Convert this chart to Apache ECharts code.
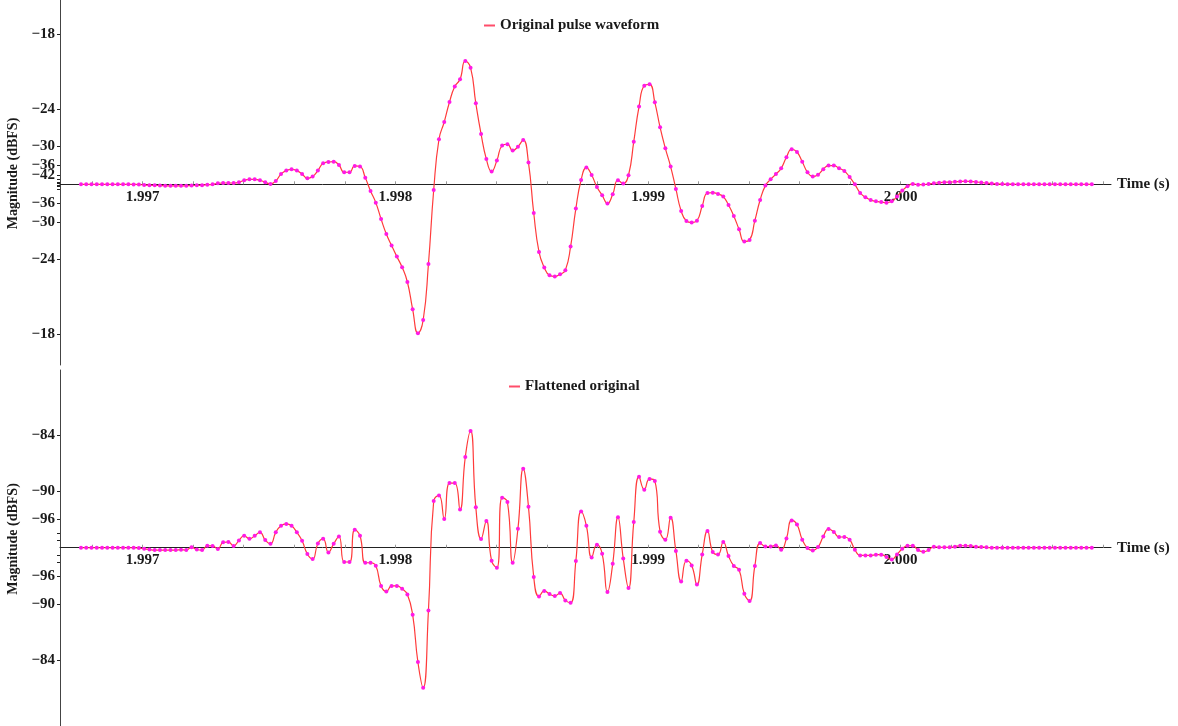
<!DOCTYPE html>
<html>
<head>
<meta charset="utf-8">
<script src="https://cdn.jsdelivr.net/npm/echarts@6/dist/echarts.min.js"></script>
<style>
  html, body { margin: 0; padding: 0; background: #ffffff; }
  #chart { width: 1178px; height: 726px; }
</style>
</head>
<body>
<div id="chart"></div>
<script>
// Pulse samples at 48 kHz
const SAMPLE_RATE = 48000;
const START_TIME = 1.996756;

// Original pulse waveform, amplitude in full-scale units
const originalFS = [
  0, 0, 0, 0, 0, 0, 0, 0, 0, 0, -0.0001, -0.0002,
  -0.0005, -0.0008, -0.0009, -0.0011, -0.0012, -0.0013, -0.0013, -0.0013, -0.0012, -0.0011, -0.0009, -0.0007, -0.0003, 0.0000,
  0.0008, 0.0011, 0.0011, 0.0011, 0.0017, 0.0034, 0.0042, 0.0042, 0.0034, 0.0017,
  0.0003, 0.0028, 0.0086, 0.0115, 0.0126, 0.0115, 0.0086, 0.0050, 0.0065, 0.0115,
  0.0176, 0.0187, 0.0190, 0.0162, 0.0101, 0.0101, 0.0154, 0.0149, 0.0056, -0.0056,
  -0.0154, -0.0291, -0.0417, -0.0514, -0.0607, -0.0696, -0.0820, -0.1049, -0.1250, -0.1139,
  -0.0669, -0.0048, 0.0378, 0.0523, 0.0691, 0.0820, 0.0881, 0.1035, 0.0979, 0.0680,
  0.0422, 0.0212, 0.0107, 0.0199, 0.0325, 0.0336, 0.0283, 0.0316, 0.0372, 0.0182,
  -0.0241, -0.0568, -0.0699, -0.0764, -0.0774, -0.0755, -0.0722, -0.0523, -0.0204, 0.0036,
  0.0140, 0.0078, -0.0023, -0.0092, -0.0162, -0.0084, 0.0034, 0.0006, 0.0076, 0.0358,
  0.0652, 0.0828, 0.0839, 0.0688, 0.0478, 0.0302, 0.0149, -0.0039, -0.0224, -0.0308,
  -0.0321, -0.0305, -0.0182, -0.0073, -0.0070, -0.0081, -0.0103, -0.0174, -0.0266, -0.0378,
  -0.0481, -0.0467, -0.0305, -0.0132, -0.0011, 0.0042, 0.0086, 0.0134, 0.0227, 0.0294,
  0.0271, 0.0190, 0.0101, 0.0065, 0.0081, 0.0126, 0.0157, 0.0157, 0.0134, 0.0112,
  0.0061, 0.0000, -0.0073, -0.0109, -0.0132, -0.0143, -0.0149, -0.0154, -0.0143, -0.0103,
  -0.0053, -0.0017, 0.0003, -0.0003, -0.0002, 0.0003, 0.0008, 0.0014, 0.0017, 0.0018,
  0.0021, 0.0023, 0.0025, 0.0023, 0.0020, 0.0015, 0.0010, 0.0006, 0.0003, 0.0002,
  0.0001, 0.0001, 0, 0, 0, 0, 0, 0, 0, 0, 0, 0, 0, 0, 0, 0, 0
];

// Flattened original, amplitude in millionths of full scale
const flattenedMicroFS = [
  0, 0, 0, 0, 0, 0, 0, 0, 0, 0, 0, -0.2,
  -0.6, -1.0, -1.3, -1.3, -1.3, -1.3, -1.3, -1.1, -1.3,
  0.2, -1.0, -1.3, 1.1, 1.0, -0.7, 3.0, 3.2, 1.0, 4.1,
  6.7, 5.0, 6.7, 8.6, 4.3, 2.2, 8.6, 12.3, 13.3, 12.3,
  8.6, 3.9, -3.5, -6.3, 2.4, 5.0, -2.6, 2.2, 6.3, -8.0,
  -8.0, 10.1, 6.7, -8.4, -8.4, -10.1, -21.4, -24.5, -21.4, -21.4,
  -23.0, -26.2, -37.5, -64.0, -78.4, -35.1, 26.2, 29.3, 16.1, 36.2,
  36.2, 21.4, 50.8, 65.4, 22.6, 4.9, 15.0, -7.3, -11.2, 28.0,
  25.6, -8.4, 10.6, 44.2, 23.0, -16.4, -27.3, -24.2, -25.9, -27.0,
  -25.4, -29.5, -30.8, -7.4, 20.3, 12.3, -5.4, 1.7, -3.4, -24.8,
  -9.0, 17.0, -6.0, -22.6, 14.4, 39.8, 32.5, 38.5, 37.4, 9.0,
  4.5, 16.8, -1.8, -18.9, -7.3, -9.9, -20.6, -3.8, 9.4, -2.4,
  -3.8, 3.2, -4.6, -10.2, -12.3, -25.8, -29.8, -10.2, 2.6, 0.7,
  0.7, 1.3, -1.1, 5.2, 15.3, 13.0, 4.5, -0.2, -1.5, 0.4,
  6.3, 10.5, 8.8, 6.0, 6.0, 4.5, -1.1, -4.3, -4.3, -4.3,
  -3.9, -3.9, -5.2, -6.6, -3.8, -0.6, 1.1, 1.1, -1.3, -2.2,
  -1.3, 0.6, 0.2, 0.2, 0.2, 0.6, 1.1, 1.1, 1.0, 0.6,
  0.4, 0.2, 0, 0, 0, 0, 0, 0, 0, 0,
  0, 0, 0, 0, 0, 0, 0, 0, 0, 0, 0, 0
];

// Tick labels in dBFS, for the half above and the half below the zero line
const originalDbAbove = [-18, -24, -30, -36, -42];
const originalDbBelow = [-36, -30, -24, -18];
const originalDbMinor = [-48, -54, -60];
const flattenedDbAbove = [-84, -90, -96];
const flattenedDbBelow = [-96, -90, -84];
const flattenedDbMinor = [-102, -108];
const timeLabels = [1.997, 1.998, 1.999, 2.000];

const FONT = '"Liberation Serif", "Times New Roman", serif';
const TEXT = '#1a1a1a';
const LINE_RED = '#ff3b3b';
const DOT = '#ff1ae6';
const X_MIN = 1.996673;
const X_MAX = 2.000832;

// Panel layout: each grid's zero line sits inside the panel, the time axis is drawn on it
const PANELS = [
  { top: 0, height: 365, yMin: -0.15166, yMax: 0.15468 },
  { top: 370, height: 356, yMin: -99.8, yMax: 99.5 }
];

const times = originalFS.map((_, i) => START_TIME + i / SAMPLE_RATE);
const toAmp = (db, unit) => Math.pow(10, db / 20) * unit;
const signedTicks = (above, below, unit) =>
  above.map(d => toAmp(d, unit)).concat(below.map(d => -toAmp(d, unit)));
const dbFormatter = unit => v => {
  if (v === 0) return '';
  const db = Math.round(20 * Math.log10(Math.abs(v) / unit));
  return '\u2212' + Math.abs(db);
};

const timeTicks = [];
for (let k = 0; k <= 20; k++) timeTicks.push(+(1.9968 + k * 0.0002).toFixed(4));

function xAxisFor(gridIndex) {
  const p = PANELS[gridIndex];
  // distance from the panel's bottom edge up to its zero line
  const zeroOffset = p.height * (0 - p.yMin) / (p.yMax - p.yMin);
  return {
    type: 'value', gridIndex, min: X_MIN, max: X_MAX,
    position: 'bottom', offset: -zeroOffset,
    axisLine: { onZero: false, lineStyle: { color: '#222', width: 1 } },
    axisTick: { show: true, inside: true, length: 3, customValues: timeTicks,
                lineStyle: { color: '#999' } },
    axisLabel: { customValues: timeLabels, formatter: v => v.toFixed(3),
                 fontFamily: FONT, fontWeight: 'bold', fontSize: 15, color: TEXT, margin: 5 },
    splitLine: { show: false },
    name: 'Time (s)', nameLocation: 'end', nameGap: 6,
    nameTextStyle: { fontFamily: FONT, fontWeight: 'bold', fontSize: 15, color: TEXT }
  };
}

function yAxisFor(gridIndex, above, below, minor, unit) {
  const p = PANELS[gridIndex];
  const labels = signedTicks(above, below, unit);
  const ticks = labels.concat(signedTicks(minor, minor, unit));
  return {
    type: 'value', gridIndex, min: p.yMin, max: p.yMax,
    axisLine: { show: true, onZero: false, lineStyle: { color: '#444', width: 1 } },
    axisTick: { show: true, length: 3, customValues: ticks, lineStyle: { color: '#222' } },
    axisLabel: { customValues: labels, formatter: dbFormatter(unit),
                 fontFamily: FONT, fontWeight: 'bold', fontSize: 15, color: TEXT, margin: 5 },
    splitLine: { show: false },
    name: 'Magnitude (dBFS)', nameLocation: 'middle', nameRotate: 90, nameGap: 38,
    nameTextStyle: { fontFamily: FONT, fontWeight: 'bold', fontSize: 14, color: TEXT,
                     padding: [0, 0, 0, 18] }
  };
}

function seriesFor(name, idx, values) {
  return {
    type: 'line', name, xAxisIndex: idx, yAxisIndex: idx,
    data: values.map((v, i) => [times[i], v]),
    smooth: 0.5, showSymbol: true, symbol: 'circle', symbolSize: 4,
    lineStyle: { color: LINE_RED, width: 1.2 },
    itemStyle: { color: DOT },
    emphasis: { disabled: true }
  };
}

function legendFor(name, left, top) {
  return {
    data: [{ name, icon: 'rect', itemStyle: { color: '#ff4d6a' } }],
    left, top, itemWidth: 11, itemHeight: 2, selectedMode: false,
    textStyle: { fontFamily: FONT, fontWeight: 'bold', fontSize: 15, color: TEXT }
  };
}

const chart = echarts.init(document.getElementById('chart'), null, { renderer: 'canvas' });
chart.setOption({
  animation: false,
  backgroundColor: '#ffffff',
  legend: [
    legendFor('Original pulse waveform', 479, 13),
    legendFor('Flattened original', 504, 374)
  ],
  grid: PANELS.map(p => ({ left: 60, top: p.top, width: 1051, height: p.height,
                           containLabel: false, outerBoundsMode: 'none' })),
  xAxis: [xAxisFor(0), xAxisFor(1)],
  yAxis: [
    yAxisFor(0, originalDbAbove, originalDbBelow, originalDbMinor, 1),
    yAxisFor(1, flattenedDbAbove, flattenedDbBelow, flattenedDbMinor, 1e6)
  ],
  series: [
    seriesFor('Original pulse waveform', 0, originalFS),
    seriesFor('Flattened original', 1, flattenedMicroFS)
  ]
});
</script>
</body>
</html>
